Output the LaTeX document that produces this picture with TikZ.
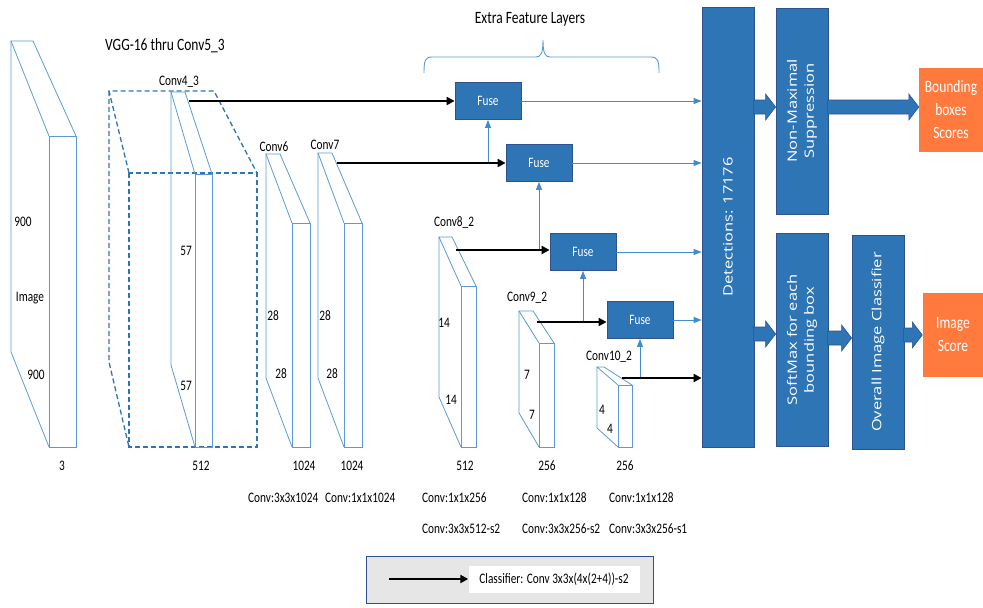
\documentclass[tikz,border=0pt]{standalone}
\usepackage{fontspec}
\setmainfont{Carlito}[FakeStretch=0.78]
\newfontfamily\rotfont{Open Sans}[FakeStretch=1.28]
\usetikzlibrary{arrows.meta,calc,positioning}

\definecolor{boxfill}{RGB}{46,117,182}
\definecolor{boxline}{RGB}{47,82,143}
\definecolor{slabblue}{RGB}{91,155,213}
\definecolor{flowblue}{RGB}{68,138,204}
\definecolor{outorange}{RGB}{255,122,60}
\definecolor{legendgray}{RGB}{230,230,230}

% one feature map: front face, back face corner, back bottom
\newcommand\slab[9][slabline]{%
	\draw[#1] (#2,#4) rectangle (#3,#5);
	\draw[#1] (#2,#4) -- (#6,#8) -- (#7,#8) -- (#3,#4);
	\draw[#1] (#6,#8) -- (#6,#9) -- (#2,#5);
}
% fat block arrow from node #1 to node #2 at height #3
\newcommand\fatarrow[3]{%
	\path (#1.east |- 0,#3) coordinate (fa) (#2.west |- 0,#3) coordinate (fb);
	\draw[fatline] ($(fa)+(-1,-7)$) -- ($(fb)+(-10,-7)$) -- ($(fb)+(-10,-13)$) -- (fb)
		-- ($(fb)+(-10,13)$) -- ($(fb)+(-10,7)$) -- ($(fa)+(-1,7)$) -- cycle;
}

\begin{document}
\begin{tikzpicture}[x=1pt,y=-1pt,
		lbl/.style={inner sep=0, font=\fontsize{14.5}{17}\selectfont},
		ttl/.style={inner sep=0, font=\fontsize{17.3}{20}\selectfont},
		slabline/.style={draw=slabblue, line width=0.8},
		dashbox/.style={draw=boxfill, line width=1.3, dash pattern=on 5pt off 3pt},
		bluebox/.style={draw=boxline, fill=boxfill, line width=0.8, text=white, inner sep=0},
		fusebox/.style={bluebox, minimum width=66, minimum height=37, font=\fontsize{14.4}{17}\selectfont},
		tallbox/.style={bluebox, minimum width=52, font=\rotfont\fontsize{12.9}{17}\selectfont},
		outbox/.style={fill=outorange, text=white, inner sep=0, align=center, font=\fontsize{17.3}{23}\selectfont},
		feed/.style={line width=2.4, -{Triangle[length=8pt,width=8pt]}},
		flow/.style={draw=flowblue, line width=0.9, -{Triangle[length=8pt,width=6pt]}},
		fatline/.style={draw=boxline, fill=boxfill, line width=0.6},
	]
	\path[use as bounding box, fill=white] (0,0) rectangle (983,608);

	% titles
	\node[ttl] (vggtitle) at (165,46) {VGG-16 thru Conv5\_3};
	\node[ttl] (extratitle) at (530,19) {Extra Feature Layers};
	\draw[slabblue, line width=0.9] (424,73) .. controls (424,61) and (425,57) .. (432,57) -- (536,57)
		.. controls (541,57) and (543,53) .. (543,40) .. controls (543,53) and (545,57) .. (550,57)
		-- (651,57) .. controls (658,57) and (659,61) .. (659,73);

	% feature maps
	\slab{49}{76}{136}{447}{11}{33}{41}{352}
	\slab[dashbox]{129}{257}{173}{447}{109}{214}{91}{362}
	\slab{195}{212}{174}{447}{171}{185}{92}{365}
	\slab{292}{310}{223}{447}{266}{280}{154}{378}
	\slab{344}{362}{223}{447}{318}{332}{153}{378}
	\slab{461}{476}{286}{447}{439}{452}{237}{397}
	\slab{539}{554}{343}{447}{519}{533}{311}{413}
	\slab{618}{632}{385}{447}{597}{604}{367}{428}

	% sizes and names
	\node[lbl] (imgh) at (23,222) {900};
	\node[lbl] (imgname) at (30,298) {Image};
	\node[lbl] (imgw) at (36,375) {900};
	\node[lbl] (imgd) at (62,466) {3};
	\node[lbl] (c4name) at (179,82) {Conv4\_3};
	\node[lbl] (c4h) at (186,251) {57};
	\node[lbl] (c4w) at (186,386) {57};
	\node[lbl] (c4d) at (201,466) {512};
	\node[lbl] (c6name) at (274,147) {Conv6};
	\node[lbl] (c6h) at (273,316) {28};
	\node[lbl] (c6w) at (281,374) {28};
	\node[lbl] (c6d) at (304,466) {1024};
	\node[lbl] (c7name) at (325,145) {Conv7};
	\node[lbl] (c7h) at (325,316) {28};
	\node[lbl] (c7w) at (332,374) {28};
	\node[lbl] (c7d) at (352,466) {1024};
	\node[lbl] (c8name) at (454,223) {Conv8\_2};
	\node[lbl] (c8h) at (444,323) {14};
	\node[lbl] (c8w) at (451,400) {14};
	\node[lbl] (c8d) at (465,466) {512};
	\node[lbl] (c9name) at (527,298) {Conv9\_2};
	\node[lbl] (c9h) at (527,375) {7};
	\node[lbl] (c9w) at (532,415) {7};
	\node[lbl] (c9d) at (547,466) {256};
	\node[lbl] (c10name) at (609,357) {Conv10\_2};
	\node[lbl] (c10h) at (602,410) {4};
	\node[lbl] (c10w) at (610,429) {4};
	\node[lbl] (c10d) at (625,466) {256};

	% layer settings
	\node[lbl, anchor=west] (c6conv) at (248,498) {Conv:3x3x1024};
	\node[lbl, anchor=west] (c7conv) at (325,498) {Conv:1x1x1024};
	\node[lbl, anchor=west] (c8conva) at (422,498) {Conv:1x1x256};
	\node[lbl, anchor=west] (c9conva) at (522,498) {Conv:1x1x128};
	\node[lbl, anchor=west] (c10conva) at (609,498) {Conv:1x1x128};
	\node[lbl, anchor=west] (c8convb) at (422,529) {Conv:3x3x512-s2};
	\node[lbl, anchor=west] (c9convb) at (522,529) {Conv:3x3x256-s2};
	\node[lbl, anchor=west] (c10convb) at (609,529) {Conv:3x3x256-s1};

	% fuse blocks
	\node[fusebox] (fuse1) at (488,101) {Fuse};
	\node[fusebox] (fuse2) at (539,163) {Fuse};
	\node[fusebox] (fuse3) at (583,252) {Fuse};
	\node[fusebox] (fuse4) at (640,320) {Fuse};

	% detection head
	\node[tallbox, minimum height=440] (det) at (728,227) {\rotatebox{90}{Detections: 17176}};
	\node[tallbox, minimum height=206] (nms) at (802,111) {\rotatebox{90}{\begin{tabular}{@{}c@{}}Non-Maximal\\Suppression\end{tabular}}};
	\node[tallbox, minimum height=213] (soft) at (802,340) {\rotatebox{90}{\begin{tabular}{@{}c@{}}SoftMax for each\\bounding box\end{tabular}}};
	\node[tallbox, minimum height=214] (overall) at (878,342) {\rotatebox{90}{Overall Image Classifier}};
	\node[outbox, minimum width=64, minimum height=84] (bbox) at (951,110) {Bounding\\boxes\\Scores};
	\node[outbox, minimum width=61, minimum height=84] (imgscore) at (953,335) {Image\\Score};

	% classifier taps
	\coordinate (c4) at (189,101);
	\coordinate (c7) at (337,163);
	\coordinate (c8) at (456,250);
	\coordinate (c9) at (537,322);
	\coordinate (c10) at (622,378);
	\draw[flow] (fuse1.south |- c7) -- (fuse1.south);
	\draw[flow] (fuse2.south |- c8) -- (fuse2.south);
	\draw[flow] (fuse3.south |- c9) -- (fuse3.south);
	\draw[flow] (fuse4.south |- c10) -- (fuse4.south);
	\draw[feed] (c4) -- (c4 -| fuse1.west);
	\draw[feed] (c7) -- (c7 -| fuse2.west);
	\draw[feed] (c8) -- (c8 -| fuse3.west);
	\draw[feed] (c9) -- (c9 -| fuse4.west);
	\draw[feed] (c10) -- (c10 -| det.west);
	\draw[flow] (fuse1.east) -- (fuse1.east -| det.west);
	\draw[flow] (fuse2.east) -- (fuse2.east -| det.west);
	\draw[flow] (fuse3.east) -- (fuse3.east -| det.west);
	\draw[flow] (fuse4.east) -- (fuse4.east -| det.west);

	% block arrows
	\fatarrow{det}{nms}{107}
	\fatarrow{nms}{bbox}{107}
	\fatarrow{det}{soft}{334}
	\fatarrow{soft}{overall}{338}
	\fatarrow{overall}{imgscore}{335}

	% legend
	\node[draw=boxline, fill=legendgray, line width=1, minimum width=287, minimum height=47, inner sep=0] (legend) at (510,580) {};
	\node[fill=white, minimum width=171, minimum height=27, inner sep=0, font=\fontsize{14.5}{17}\selectfont] (legtext) at (554,579) {Classifier: Conv 3x3x(4x(2+4))-s2};
	\coordinate (legstart) at (389,579);
	\draw[feed] (legstart) -- (legtext.west);
\end{tikzpicture}
\end{document}
